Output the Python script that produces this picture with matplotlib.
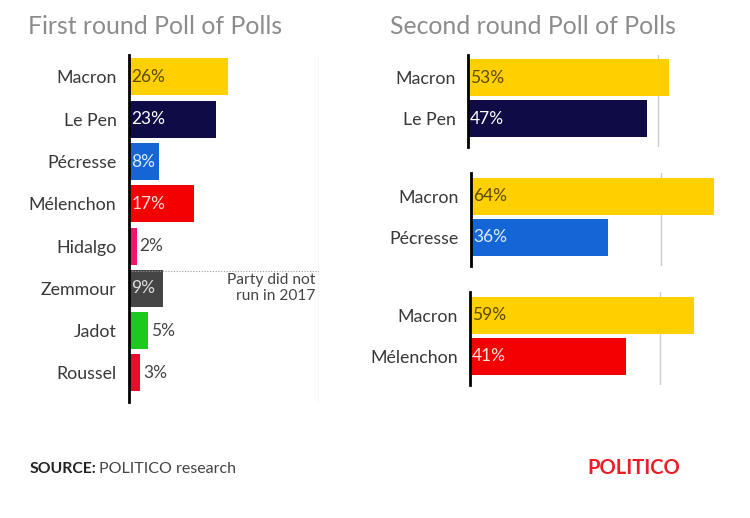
import matplotlib.pyplot as plt

plt.rcParams['font.family'] = ['Lato', 'DejaVu Sans']

W, H = 750, 518

first_names = ['Macron', 'Le Pen', 'Pécresse', 'Mélenchon', 'Hidalgo',
               'Zemmour', 'Jadot', 'Roussel']
first_values = [26, 23, 8, 17, 2, 9, 5, 3]
first_colors = ['#FFD000', '#0E0B46', '#1466D6', '#F40000', '#F0176B',
                '#454545', '#1CC91C', '#E60F2B']
first_text = ['#5A4A00', '#FFFFFF', '#DDEBFF', '#FFE0E0', '#444444',
              '#DDDDDD', '#444444', '#444444']

second_names = [['Macron', 'Le Pen'], ['Macron', 'Pécresse'], ['Macron', 'Mélenchon']]
second_values = [[53, 47], [64, 36], [59, 41]]
second_colors = [['#FFD000', '#0E0B46'], ['#FFD000', '#1466D6'], ['#FFD000', '#F40000']]
second_text = [['#5A4A00', '#FFFFFF'], ['#5A4A00', '#DDEBFF'], ['#5A4A00', '#FFE0E0']]

PX = 3.8  # pixels per percentage point


def px_axes(fig, x0, y0, x1, y1):
    return fig.add_axes([x0 / W, 1 - y1 / H, (x1 - x0) / W, (y1 - y0) / H])


def style(ax):
    for s in ['top', 'right', 'bottom']:
        ax.spines[s].set_visible(False)
    ax.spines['left'].set_linewidth(2)
    ax.spines['left'].set_color('black')
    ax.set_xticks([])
    ax.tick_params(axis='y', length=0, pad=9, labelsize=12.8, labelcolor='#383838')
    ax.patch.set_alpha(0)


def add_labels(ax, values, tcolors, inside_min=6):
    for i, (v, c) in enumerate(zip(values, tcolors)):
        if v >= inside_min:
            ax.text(0.6, i, f'{v}%', va='center', ha='left', fontsize=12.5, color=c)
        else:
            ax.text(v + 0.8, i, f'{v}%', va='center', ha='left', fontsize=12.5, color=c)


fig = plt.figure(figsize=(W / 100, H / 100), dpi=100)
fig.patch.set_facecolor('white')

# first round
x0 = 129
ax = px_axes(fig, x0, 55, x0 + 50 * PX, 402)
ax.barh(range(len(first_names)), first_values, height=0.875, color=first_colors)
ax.set_xlim(0, 50)
ax.set_ylim(7.69, -0.52)
ax.set_yticks(range(len(first_names)))
ax.set_yticklabels(first_names)
style(ax)
ax.axvline(50, color='#CCCCCC', lw=1)
ax.plot([0, 50], [4.58, 4.58], ls=(0, (1, 1.5)), color='#999999', lw=0.8)
ax.text(49, 5.0, 'Party did not\nrun in 2017', ha='right', va='center',
        fontsize=11.2, color='#444444', linespacing=1.2)
add_labels(ax, first_values, first_text)

# second round
panels = [(468, 55, 147), (471, 173, 266), (470, 292, 385)]
for (px0, top, bot), names, vals, cols, tcols in zip(panels, second_names, second_values,
                                                     second_colors, second_text):
    ax = px_axes(fig, px0, top, px0 + 70 * PX, bot)
    ax.barh(range(2), vals, height=0.9, color=cols)
    ax.set_xlim(0, 70)
    ax.set_ylim(1.7, -0.56)
    ax.set_yticks(range(2))
    ax.set_yticklabels(names)
    style(ax)
    ax.axvline(50, color='#CCCCCC', lw=1, zorder=0)
    add_labels(ax, vals, tcols)

fig.text(28 / W, 1 - 26 / H, 'First round Poll of Polls', fontsize=17.8,
         color='#8C8C8C', va='center', ha='left')
fig.text(390 / W, 1 - 26 / H, 'Second round Poll of Polls', fontsize=17.8,
         color='#8C8C8C', va='center', ha='left')

fig.text(30 / W, 1 - 469 / H, 'SOURCE:', fontsize=11.3, fontweight='bold',
         color='#222222', va='center', ha='left')
fig.text(99 / W, 1 - 469 / H, 'POLITICO research', fontsize=11.5,
         color='#444444', va='center', ha='left')
fig.text(587 / W, 1 - 468 / H, 'POLITICO', fontsize=14.5, color='#EE1C25',
         va='center', ha='left', fontweight='bold')

fig.savefig('out.png', dpi=100)
